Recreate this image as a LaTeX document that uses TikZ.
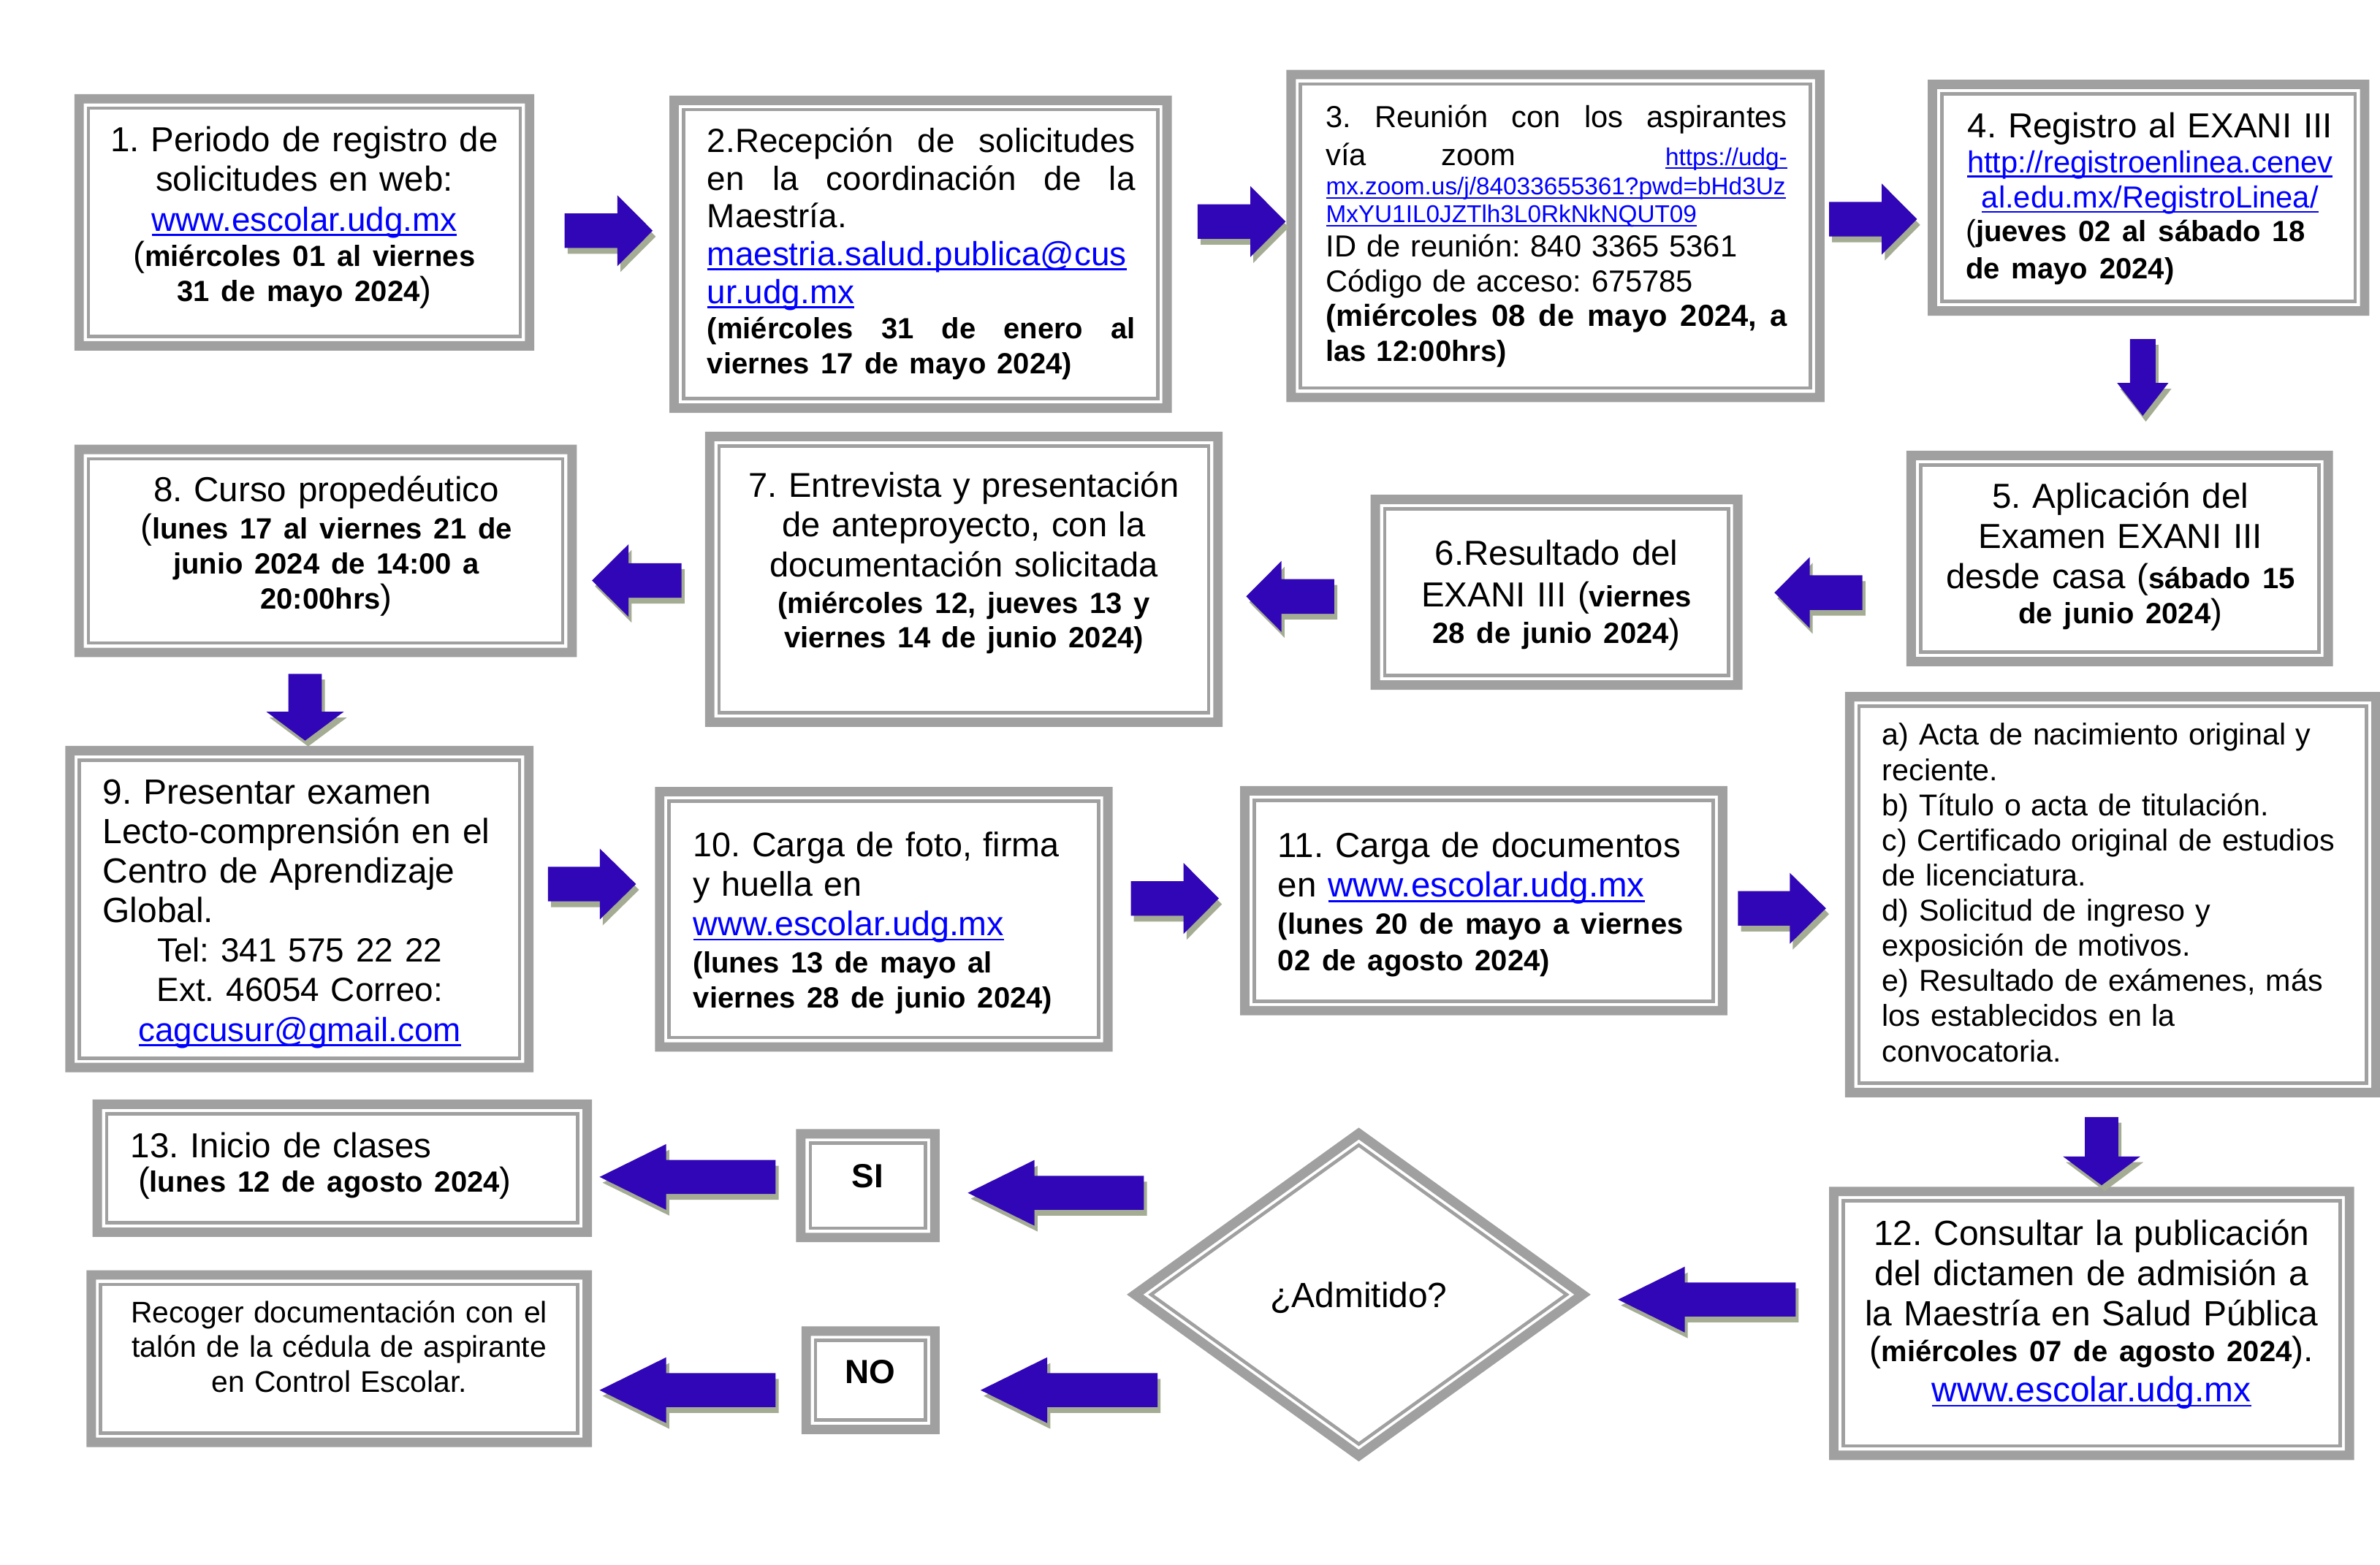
\documentclass[tikz,border=0pt]{standalone}
\usepackage{fontspec}
\setmainfont{Liberation Sans}
\usetikzlibrary{calc,fit}
\definecolor{boxgray}{RGB}{160,160,160}
\definecolor{arrowc}{RGB}{49,6,182}
\definecolor{shadowc}{RGB}{164,172,148}
\definecolor{linkc}{RGB}{0,0,255}
\frenchspacing
\newcommand\lnk[1]{\leavevmode{\color{linkc}\setbox0=\hbox{#1}\rlap{\rule[-0.15em]{\wd0}{0.06em}}\box0}}
\newcommand\bsz{\fontsize{9.6}{11.5}\selectfont\bfseries}
\newcommand\rsz[2]{\fontsize{#1}{#2}\selectfont}
\newcommand\jl[1]{\makebox[\linewidth][s]{#1}}
\newcommand\myframe[5]{%
  \coordinate (#1-nw) at (#2,#3);
  \coordinate (#1-se) at (#4,#5);
  \node[inner sep=0pt, outer sep=0pt, fit={(#1-nw) (#1-se)}] (#1) {};
  \fill[boxgray, even odd rule] (#1.north west) rectangle (#1.south east)
    ([shift={(6.2,6.2)}]#1.north west) rectangle ([shift={(-6.2,-6.2)}]#1.south east);
  \draw[boxgray, line width=1.1pt] ([shift={(9.3,9.3)}]#1.north west) rectangle ([shift={(-9.3,-9.3)}]#1.south east);
}
\newcommand\arrowpath[5]{($(#1)!#3!90:(#2)$) -- ($(#1n)!#3!90:(#2)$) -- ($(#1n)!#4!90:(#2)$) -- (#2) -- ($(#1n)!#4!-90:(#2)$) -- ($(#1n)!#3!-90:(#2)$) -- ($(#1)!#3!-90:(#2)$) -- cycle}
\newcommand\barrow[5]{%
  \coordinate (#1n) at ($(#2)!#5!(#1)$);
  \fill[shadowc, transform canvas={shift={(1pt,-1.9pt)}}] \arrowpath{#1}{#2}{#3}{#4}{#5};
  \fill[arrowc] \arrowpath{#1}{#2}{#3}{#4}{#5};
}
\begin{document}
\begin{tikzpicture}[x=0.4985pt, y=-0.4985pt,
  txt/.style={inner sep=0pt, outer sep=0pt, anchor=base}]
\fill[white] (0,0) rectangle (1568,1031.2);
\useasboundingbox (0,0) rectangle (1568,1031.2);

% frames
\myframe{b1}{49}{62}{352}{231}
\myframe{b2}{441}{63}{772}{272}
\myframe{b3}{847.5}{46}{1202}{265}
\myframe{b4}{1270}{52.5}{1561}{208}
\myframe{b5}{1256}{297}{1537}{439}
\myframe{b6}{903}{326}{1148}{454.5}
\myframe{b7}{464.5}{284.5}{805.5}{479}
\myframe{b8}{49}{293}{380}{433}
\myframe{b9}{43}{491.5}{351.5}{706.5}
\myframe{b10}{431.5}{518.5}{733}{693}
\myframe{b11}{817}{518}{1138}{669}
\myframe{bd}{1215.5}{456}{1568.5}{723}
\myframe{b12}{1205}{782}{1551}{962}
\myframe{b13}{61}{724.5}{390}{815}
\myframe{bsi}{524.5}{744}{619}{818.5}
\myframe{bno}{528}{874}{619}{945}
\myframe{brec}{57}{837}{390}{953.5}

% diamond
\coordinate (dc) at (895.2,853);
\fill[boxgray, even odd rule] ([shift={(-152.8,0)}]dc) -- ([shift={(0,-110)}]dc) -- ([shift={(152.8,0)}]dc) -- ([shift={(0,110)}]dc) -- cycle
  ([shift={(-142,0)}]dc) -- ([shift={(0,-102.2)}]dc) -- ([shift={(142,0)}]dc) -- ([shift={(0,102.2)}]dc) -- cycle;
\draw[boxgray, line width=1.1pt, line join=miter] ([shift={(-136.9,0)}]dc) -- ([shift={(0,-98.5)}]dc) -- ([shift={(136.9,0)}]dc) -- ([shift={(0,98.5)}]dc) -- cycle;

% texts
\node[txt, text width=148pt, align=center, font={\rsz{11.4}{13}}] (t1) at (200.5,100)
 {1. Periodo de registro de\\solicitudes en web:\\{\rsz{11}{13}\lnk{www.escolar.udg.mx}}\\[-1.4pt]({\bsz miércoles 01 al viernes}\\[-1.4pt]{\bsz 31 de mayo 2024})};

\node[txt, text width=140.6pt, align=left, font={\rsz{11}{12.4}}] (t2) at (607,100.3)
 {\jl{2.Recepción\hfill de\hfill solicitudes}\\\jl{en\hfill la\hfill coordinación\hfill de\hfill la}\\Maestría.\\\lnk{maestria.salud.publica@cus}\\\lnk{ur.udg.mx}\\[-0.8pt]\jl{\bsz(miércoles\hfill 31\hfill de\hfill enero\hfill al}\\[-0.8pt]{\bsz viernes 17 de mayo 2024)}};

\node[txt, text width=151.5pt, align=left, font={\rsz{10}{11.6}}] (t3) at (1025.5,84.2)
 {\jl{3.\hfill Reunión\hfill con\hfill los\hfill aspirantes}\\[0.76pt]\jl{vía\hfill zoom\hfill\hfill{\rsz{8}{9.2}\lnk{https://udg-}}}\\[-1.93pt]{\rsz{8}{9.2}\lnk{mx.zoom.us/j/84033655361?pwd=bHd3Uz}}\\[-2.43pt]{\rsz{8}{9.2}\lnk{MxYU1IL0JZTlh3L0RkNkNQUT09}}\\[-0.4pt]ID de reunión: 840 3365 5361\\Código de acceso: 675785\\[-0.4pt]\jl{\bfseries(miércoles\hfill 08\hfill de\hfill mayo\hfill 2024,\hfill a}\\{\bsz las 12:00hrs)}};

\node[txt, text width=121pt, align=center, font={\rsz{11.4}{11.6}}] (t4) at (1416.5,90.6)
 {4. Registro al EXANI III\\{\rsz{10}{11.6}\lnk{http://registroenlinea.cenev}}\\{\rsz{10}{11.6}\lnk{al.edu.mx/RegistroLinea/}}\\[-0.7pt]\makebox[\linewidth][l]{\rsz{10}{11.6}({\bsz jueves 02 al sábado 18}}\\[0.8pt]\makebox[\linewidth][l]{\bsz de mayo 2024)}};

\node[txt, text width=124.6pt, align=center, font={\rsz{11.4}{13.2}}] (t5) at (1397,334.6)
 {5. Aplicación del\\Examen EXANI III\\desde casa ({\bsz sábado 15}\\[-1.6pt]{\bsz de junio 2024})};

\node[txt, text width=110pt, align=center, font={\rsz{11.4}{13.6}}] (t6) at (1025.5,372.3)
 {6.Resultado del\\EXANI III ({\bsz viernes}\\[-1.6pt]{\bsz 28 de junio 2024})};

\node[txt, text width=154.5pt, align=center, font={\rsz{11.3}{13.1}}] (t7) at (635,327.4)
 {7. Entrevista y presentación\\de anteproyecto, con la\\documentación solicitada\\[-1.1pt]{\bsz(miércoles 12, jueves 13 y}\\[-1.8pt]{\bsz viernes 14 de junio 2024)}};

\node[txt, text width=149.5pt, align=center, font={\rsz{11.4}{12.2}}] (t8) at (215,330.5)
 {8. Curso propedéutico\\({\bsz lunes 17 al viernes 21 de}\\[-0.7pt]{\bsz junio 2024 de 14:00 a}\\[-0.7pt]{\bsz 20:00hrs})};

\node[txt, text width=129.5pt, align=left, font={\rsz{11.5}{13}}] (t9) at (197.5,529.6)
 {9. Presentar examen\\Lecto-comprensión en el\\Centro de Aprendizaje\\Global.\\\makebox[\linewidth][c]{\rsz{11}{13}Tel: 341 575 22 22}\\\makebox[\linewidth][c]{\rsz{11}{13}Ext. 46054 Correo:}\\\makebox[\linewidth][c]{\rsz{11}{13}\lnk{cagcusur@gmail.com}}};

\node[txt, anchor=base west, text width=134.6pt, align=left, font={\rsz{11.2}{12.9}}] (t10) at (456.8,564.7)
 {10. Carga de foto, firma\\y huella en\\\lnk{www.escolar.udg.mx}\\[-0.7pt]{\bsz(lunes 13 de mayo al}\\[-1.4pt]{\bsz viernes 28 de junio 2024)}};

\node[txt, anchor=base west, text width=146pt, align=left, font={\rsz{11.4}{13}}] (t11) at (842,565)
 {11. Carga de documentos\\en \lnk{www.escolar.udg.mx}\\[-0.8pt]{\bsz(lunes 20 de mayo a viernes}\\[-1.0pt]{\bsz 02 de agosto 2024)}};

\node[txt, anchor=base west, text width=160pt, align=left, font={\rsz{9.9}{11.55}}] (td) at (1240,491)
 {a) Acta de nacimiento original y\\reciente.\\b) Título o acta de titulación.\\c) Certificado original de estudios\\de licenciatura.\\d) Solicitud de ingreso y\\exposición de motivos.\\e) Resultado de exámenes, más\\los establecidos en la\\convocatoria.};

\node[txt, text width=154.5pt, align=center, font={\rsz{11.5}{13.2}}] (t12) at (1378,820.8)
 {12. Consultar la publicación\\del dictamen de admisión a\\la Maestría en Salud Pública\\[-1.6pt]({\bsz miércoles 07 de agosto 2024}).\\\lnk{www.escolar.udg.mx}};

\node[txt, anchor=base west, text width=150pt, align=left, font={\rsz{11.4}{13.1}}] (t13) at (86,762.6)
 {13. Inicio de clases\\[-1.6pt]\hspace*{2.5pt}({\bsz lunes 12 de agosto 2024})};

\node[txt, font={\rsz{11}{13}\bfseries}] (tsi) at (571.7,782.4) {SI};
\node[txt, font={\rsz{11}{13}\bfseries}] (tno) at (573.5,911.8) {NO};

\node[txt, text width=149.5pt, align=center, font={\rsz{9.8}{11.4}}] (trec) at (223.5,871.5)
 {Recoger documentación con el\\talón de la cédula de aspirante\\en Control Escolar.};

\node[txt, font={\rsz{11.5}{13}}] (adm) at (895.2,861.7) {¿Admitido?};

% arrows
\coordinate (a12s) at (372,152);     \coordinate (a12e) at (430,152);
\coordinate (a23s) at (789,146);     \coordinate (a23e) at (847,146);
\coordinate (a34s) at (1205,144.4);  \coordinate (a34e) at (1263,144.4);
\coordinate (a45s) at (1411.7,223.4);\coordinate (a45e) at (1411.7,274);
\coordinate (a56s) at (1227,390.5);  \coordinate (a56e) at (1169,390.5);
\coordinate (a67s) at (879,393);     \coordinate (a67e) at (821,393);
\coordinate (a78s) at (449,382.5);   \coordinate (a78e) at (390,382.5);
\coordinate (a89s) at (201,444);     \coordinate (a89e) at (201,488);
\coordinate (a910s) at (361,582.5);  \coordinate (a910e) at (419,582.5);
\coordinate (a1011s) at (745,592);   \coordinate (a1011e) at (803,592);
\coordinate (a11ds) at (1145,598.5); \coordinate (a11de) at (1203,598.5);
\coordinate (ad12s) at (1384.6,736); \coordinate (ad12e) at (1384.6,781);
\coordinate (a12ds) at (1183,856.3); \coordinate (a12de) at (1066,856.3);
\coordinate (adsis) at (753.6,786);  \coordinate (adsie) at (637.6,786);
\coordinate (asi13s) at (511,775.5); \coordinate (asi13e) at (395,775.5);
\coordinate (adnos) at (762.6,916);  \coordinate (adnoe) at (646,916);
\coordinate (anors) at (511,916);    \coordinate (anore) at (395,916);

\barrow{a12s}{a12e}{5.68pt}{11.67pt}{11.6pt}
\barrow{a23s}{a23e}{5.68pt}{11.67pt}{11.6pt}
\barrow{a34s}{a34e}{5.68pt}{11.67pt}{11.6pt}
\barrow{a45s}{a45e}{4.19pt}{8.42pt}{10.8pt}
\barrow{a56s}{a56e}{5.68pt}{11.67pt}{11.6pt}
\barrow{a67s}{a67e}{5.68pt}{11.67pt}{11.6pt}
\barrow{a78s}{a78e}{5.68pt}{11.9pt}{12pt}
\barrow{a89s}{a89e}{5.48pt}{12.7pt}{9.47pt}
\barrow{a910s}{a910e}{5.68pt}{11.67pt}{11.9pt}
\barrow{a1011s}{a1011e}{5.68pt}{11.67pt}{11.6pt}
\barrow{a11ds}{a11de}{5.68pt}{11.67pt}{11.9pt}
\barrow{ad12s}{ad12e}{5.48pt}{12.7pt}{9.47pt}
\barrow{a12ds}{a12de}{5.58pt}{10.8pt}{21.9pt}
\barrow{adsis}{adsie}{5.58pt}{10.8pt}{21.9pt}
\barrow{asi13s}{asi13e}{5.58pt}{10.8pt}{21.9pt}
\barrow{adnos}{adnoe}{5.58pt}{10.8pt}{21.9pt}
\barrow{anors}{anore}{5.58pt}{10.8pt}{21.9pt}
\end{tikzpicture}
\end{document}
